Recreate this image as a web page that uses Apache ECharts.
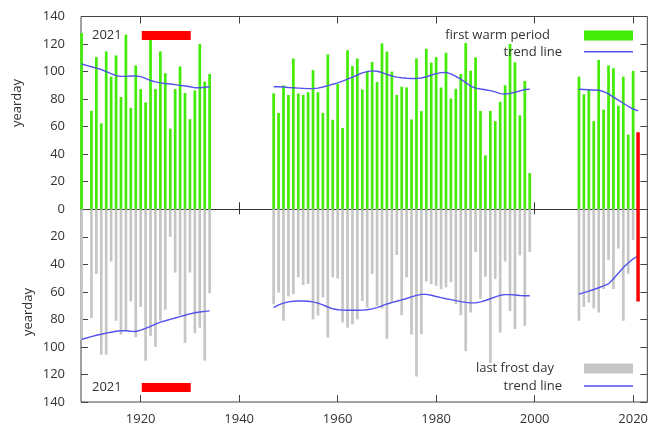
<!DOCTYPE html>
<html><head><meta charset="utf-8">
<script src="https://cdn.jsdelivr.net/npm/echarts@6/dist/echarts.min.js"></script>
<style>html,body{margin:0;padding:0;background:#fff}#c{width:651px;height:430px}</style>
</head><body><div id="c"></div>
<script>
// ---- data ----
const xTickYears = [1920, 1940, 1960, 1980, 2000, 2020];
const startA = 1908, startB = 1947, startC = 2009;

// first warm period (yearday), null = no data
const warmA = [128, null, 71.5, 110.5, 62.4, 114.6, 96.3, 111.7, 81.5, 126.8, 73.7, 104.4, 87.3, 77.6, 124.4, 87.3, 114.6, 98.8, 58.5, 87.3, 103.7, 84.4, 65.4, 86.3, 120, 92.7, 98.3];
const warmB = [84.2, 70, 90, 83, 109.5, 84, 83, 85, 101, 85,
               70, 112.5, 65, 91, 59, 115.5, 104, 109.5, 87, 100.5,
               107, 92.5, 120.5, 114.5, 100, 83, 89, 88.5, 65.3, 109.6,
               71.3, 116.5, 106.5, 110.5, 88.4, 113.7, 80.4, 87.5, 98.2, 120.7,
               100.6, 110.3, 71.4, 39.2, 71.4, 64, 78, 90.1, 120.1, 106.7,
               68.2, 93.2, 26.3];
const warmC = [96.3, 83.5, 86.7, 64, 108.5, 72.3, 104.5, 102.4, 75.2, 96.3, 54.2, 100.5];

// last frost day (yearday)
const frostA = [95, null, 79, 47, 105.6, 105.6, 38, 81, 91, 88, 67, 93, 71, 110, 92, 100, 81, 73, 20, 46, 77, 97, 46, 90, 86, 110, 61];
const frostB = [69, 60.5, 81, 63.3, 61.6, 49.4, 55, 54.2, 80, 77.2,
                64, 93.2, 49.4, 50.3, 82.2, 86, 83.6, 80, 66.6, 71.5,
                47, 70.2, 72.2, 94, 67.8, 33.2, 77, 49.5, 91, 121.5,
                90.8, 52.5, 54.3, 55.6, 58, 56.7, 53, 69, 77, 103,
                75, 31, 65, 49, 111.6, 50.6, 89.7, 38, 74, 87,
                33.5, 84.7, 31];
const frostC = [81, 71, 67.8, 72, 75, 58, 37, 58, 28.6, 81, 46.8, 22.4];

// trend lines
const trendWarmA = [105.5, 104.5, 103.5, 102.5, 101.5, 100, 98.5, 97, 96.5, 96.5, 96.8, 96.8, 96.3, 95, 93.5, 92.5, 91.8, 91.3, 91, 90.5, 90, 89.5, 89, 88.3, 88.3, 88.6, 89];
const trendWarmB = [89, 89, 88.8, 88.4, 88.2, 88, 87.8, 87.6, 87.6, 88,
                    88.8, 89.8, 90.8, 91.8, 93, 94.5, 96, 97.5, 99, 100,
                    100.5, 100.2, 99.3, 98, 96.8, 96, 95.5, 95.2, 95, 95,
                    95.3, 96.2, 97.5, 98.5, 99.2, 99.3, 98.3, 96.5, 94.5, 92,
                    89.5, 88, 87.3, 86.8, 86.2, 85.2, 84, 83.7, 84.2, 85,
                    86, 87, 87.2];
const trendWarmC = [87.2, 87, 86.8, 86.6, 86.4, 85.5, 83.8, 81.5, 79.2, 77, 74.8, 72.8, 71.5];

const trendFrostA = [94.5, 93.5, 92.5, 91.5, 90.8, 90, 89.3, 88.6, 88.3, 88.2, 88.6, 88.8, 87.8, 86.5, 85, 83.5, 82, 81, 80, 79, 78, 77, 76, 75.2, 74.6, 74.2, 73.8];
const trendFrostB = [71.5, 69.5, 68.2, 67.3, 66.8, 66.6, 66.6, 66.8, 67.3, 68.2,
                     69.5, 71, 72.3, 73, 73.3, 73.4, 73.4, 73.4, 73.3, 73,
                     72.4, 71.5, 70.2, 68.8, 67.8, 66.8, 65.8, 64.8, 63.7, 62.6,
                     61.8, 61.8, 62.5, 63.4, 64.2, 65, 65.6, 66.4, 67.1, 67.6,
                     68, 68, 67.3, 66.3, 65, 63.6, 62.5, 62, 62, 62.3,
                     62.6, 62.8, 62.8];
const trendFrostC = [61.6, 60.6, 59.5, 58.3, 57, 55.7, 54.2, 50.5, 46.5, 42.3, 39, 36, 34];

// 2021 highlight
const year2021 = 2021;
const warm2021 = 56;
const frost2021 = 67;

// ---- build ----
const FONT = '"Open Sans", sans-serif';
const TXT = '#333';
const GREEN = '#42ec06', GRAY = '#c6c6c6', BLUE = '#5252ee', RED = '#ff0000';

function barPairs(segs, sign) {
  const out = [];
  segs.forEach(([start, vals]) => vals.forEach((v, i) => { if (v != null) out.push([start + i, sign * v]); }));
  return out;
}
function linePairs(segs, sign) {
  const out = [];
  segs.forEach(([start, vals], k) => {
    if (k > 0) out.push([start - 0.5, '-']);
    vals.forEach((v, i) => out.push([start + i, sign * v]));
  });
  return out;
}

const xMin = 1907.88, xMax = 2022.88;
const baseX = { type: 'value', min: xMin, max: xMax, splitLine: { show: false } };
const legendText = (pad) => ({ color: TXT, fontSize: 13, fontFamily: FONT, padding: [0, pad, 0, 0] });

const option = {
  animation: false,
  backgroundColor: '#fff',
  textStyle: { fontFamily: FONT },
  grid: { left: 81, right: -2, top: 16.5, bottom: 28, show: true, borderColor: '#444', borderWidth: 1, containLabel: false },
  xAxis: [
    Object.assign({}, baseX, { position: 'bottom', axisLine: { show: false, onZero: false },
      axisTick: { inside: true, length: 7, customValues: xTickYears, lineStyle: { color: '#444' } },
      axisLabel: { customValues: xTickYears, formatter: v => String(v), color: TXT, fontSize: 13, fontFamily: FONT, margin: 11 } }),
    Object.assign({}, baseX, { position: 'top', axisLine: { show: false, onZero: false },
      axisTick: { inside: true, length: 7, customValues: xTickYears, lineStyle: { color: '#444' } },
      axisLabel: { show: false } }),
    Object.assign({}, baseX, { position: 'bottom', axisLine: { show: true, onZero: true, onZeroAxisIndex: 0, lineStyle: { color: '#333', width: 1 } },
      axisTick: { inside: true, length: 7, customValues: xTickYears, lineStyle: { color: '#333' } },
      axisLabel: { show: false } }),
    Object.assign({}, baseX, { position: 'bottom', axisLine: { show: true, onZero: true, onZeroAxisIndex: 0, lineStyle: { color: '#333', width: 1 } },
      axisTick: { inside: false, length: 5, customValues: xTickYears, lineStyle: { color: '#333' } },
      axisLabel: { show: false } })
  ],
  yAxis: [
    { type: 'value', position: 'left', min: -140, max: 140, interval: 20,
      axisLine: { show: false }, splitLine: { show: false },
      axisTick: { inside: true, length: 7, lineStyle: { color: '#444' } },
      axisLabel: { formatter: v => String(Math.abs(v)), color: TXT, fontSize: 13, fontFamily: FONT, margin: 16 } },
    { type: 'value', position: 'right', min: -140, max: 140, interval: 20,
      axisLine: { show: false }, splitLine: { show: false },
      axisTick: { inside: true, length: 7, lineStyle: { color: '#444' } },
      axisLabel: { show: false } }
  ],
  legend: [
    { data: [{ name: '2021', icon: 'rect' }], left: 92, top: 29, padding: 0, align: 'right', itemWidth: 49, itemHeight: 9, selectedMode: false,
      textStyle: legendText(15) },
    { data: [{ name: '2021', icon: 'rect' }], left: 92, top: 381, padding: 0, align: 'right', itemWidth: 49, itemHeight: 9, selectedMode: false,
      textStyle: legendText(15) },
    { data: [{ name: 'first warm period', icon: 'rect' }], right: 18, top: 29, padding: 0, align: 'right', itemWidth: 49, itemHeight: 10, selectedMode: false,
      textStyle: legendText(29) },
    { data: [{ name: 'trend line', icon: 'rect' }], right: 18, top: 45.3, padding: 0, align: 'right', itemWidth: 49, itemHeight: 1.5, selectedMode: false,
      itemStyle: { color: BLUE }, textStyle: legendText(17) },
    { data: [{ name: 'last frost day', icon: 'rect' }], right: 18, top: 362, padding: 0, align: 'right', itemWidth: 49, itemHeight: 10, selectedMode: false,
      textStyle: legendText(25) },
    { data: [{ name: 'trend line', icon: 'rect' }], right: 18, top: 379.5, padding: 0, align: 'right', itemWidth: 49, itemHeight: 1.5, selectedMode: false,
      itemStyle: { color: BLUE }, textStyle: legendText(17) }
  ],
  graphic: [
    { type: 'text', x: 17, y: 103, rotation: Math.PI / 2, style: { text: 'yearday', font: '13px ' + FONT, fill: TXT, align: 'center', verticalAlign: 'middle' } },
    { type: 'text', x: 28, y: 312, rotation: Math.PI / 2, style: { text: 'yearday', font: '13px ' + FONT, fill: TXT, align: 'center', verticalAlign: 'middle' } }
  ],
  series: [
    { name: 'first warm period', type: 'bar', stack: 'a', xAxisIndex: 0, yAxisIndex: 0, barWidth: 2.7,
      itemStyle: { color: GREEN }, data: barPairs([[startA, warmA], [startB, warmB], [startC, warmC]], 1) },
    { name: 'last frost day', type: 'bar', stack: 'a', xAxisIndex: 0, yAxisIndex: 0, barWidth: 2.7,
      itemStyle: { color: GRAY }, data: barPairs([[startA, frostA], [startB, frostB], [startC, frostC]], -1) },
    { name: 'trend line', type: 'line', xAxisIndex: 0, yAxisIndex: 0, symbol: 'none', showSymbol: false, connectNulls: false,
      lineStyle: { color: BLUE, width: 1.4 }, itemStyle: { color: BLUE }, z: 5,
      data: linePairs([[startA, trendWarmA], [startB, trendWarmB], [startC, trendWarmC]], 1) },
    { name: 'trend line', type: 'line', xAxisIndex: 0, yAxisIndex: 0, symbol: 'none', showSymbol: false, connectNulls: false,
      lineStyle: { color: BLUE, width: 1.4 }, itemStyle: { color: BLUE }, z: 5,
      data: linePairs([[startA, trendFrostA], [startB, trendFrostB], [startC, trendFrostC]], -1) },
    { name: '2021', type: 'line', xAxisIndex: 0, yAxisIndex: 0, symbol: 'none', showSymbol: false, color: RED,
      lineStyle: { color: RED, width: 3.5, cap: 'butt' }, itemStyle: { color: RED }, z: 6,
      data: [[year2021, warm2021], [year2021, -frost2021]] }
  ]
};

const chart = echarts.init(document.getElementById('c'), null, { renderer: 'canvas' });
chart.setOption(option);
</script>
</body></html>
